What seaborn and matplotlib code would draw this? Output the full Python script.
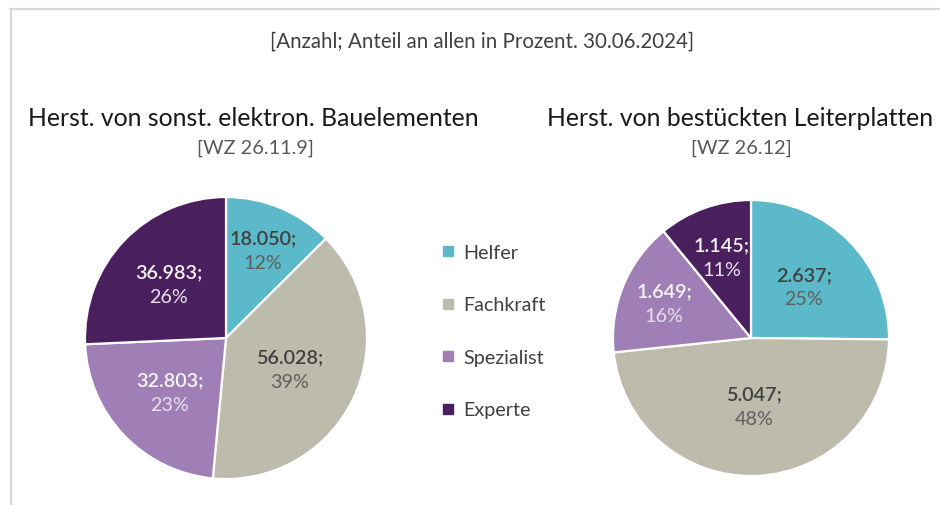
import matplotlib
matplotlib.use("Agg")
import matplotlib.pyplot as plt
import seaborn as sns
import numpy as np
from matplotlib.lines import Line2D

# ---- data ----
categories = ["Helfer", "Fachkraft", "Spezialist", "Experte"]
left_values = [18050, 56028, 32803, 36983]
left_percent = [12, 39, 23, 26]
right_values = [2637, 5047, 1649, 1145]
right_percent = [25, 48, 16, 11]
left_title = "Herst. von sonst. elektron. Bauelementen"
left_sub = "[WZ 26.11.9]"
right_title = "Herst. von bestückten Leiterplatten"
right_sub = "[WZ 26.12]"
header = "[Anzahl; Anteil an allen in Prozent. 30.06.2024]"

# ---- style ----
sns.set_theme(style="white")
plt.rcParams["font.family"] = ["Lato", "DejaVu Sans"]
colors = sns.color_palette(["#5BB9C9", "#BCBBAC", "#A07FB6", "#4A1F5E"])
dark_slice = [False, False, True, True]
left_label_r = [0.68, 0.50, 0.55, 0.56]
right_label_r = [0.54, 0.49, 0.68, 0.63]

W, H = 940, 506
fig = plt.figure(figsize=(W / 100, H / 100), dpi=100)
fig.patch.set_facecolor("white")


def fx(px):
    return px / W


def fy(py):
    return 1 - py / H


# frame lines (top and left)
fig.add_artist(Line2D([fx(10), 1], [fy(10), fy(10)], color="#D9D9D9", lw=1.6))
fig.add_artist(Line2D([fx(11), fx(11)], [0, fy(10)], color="#D9D9D9", lw=1.6))


def draw_pie(cx, cy, r, values, percents, label_r):
    ax = fig.add_axes([fx(cx - r), fy(cy + r), 2 * r / W, 2 * r / H])
    wedges, _ = ax.pie(values, colors=colors, startangle=90, counterclock=False,
                       radius=1, wedgeprops=dict(edgecolor="white", linewidth=1.6))
    ax.set_xlim(-1.0, 1.0)
    ax.set_ylim(-1.0, 1.0)
    ax.set_aspect("equal")
    ax.axis("off")
    for w in wedges:
        w.set_clip_on(False)
    for w, v, p, lr, dark in zip(wedges, values, percents, label_r, dark_slice):
        ang = np.deg2rad((w.theta1 + w.theta2) / 2)
        x, y = lr * np.cos(ang), lr * np.sin(ang)
        num = f"{v:,}".replace(",", ".") + ";"
        c1 = "#F5F5F5" if dark else "#404040"
        c2 = "#E6E0EC" if dark else "#5F5F5F"
        ax.text(x, y + 0.02, num, ha="center", va="bottom", fontsize=14.2,
                color=c1, fontweight="semibold")
        ax.text(x, y - 0.035, f"{p}%", ha="center", va="top", fontsize=14.2,
                color=c2)
    return ax


draw_pie(226, 339, 141, left_values, left_percent, left_label_r)
draw_pie(751, 339, 138, right_values, right_percent, right_label_r)

fig.text(fx(482), fy(42), header, ha="center", va="center", fontsize=14.8,
         color="#404040")
fig.text(fx(253), fy(118), left_title, ha="center", va="center", fontsize=17.8,
         color="#1A1A1A")
fig.text(fx(255), fy(148), left_sub, ha="center", va="center", fontsize=14.3,
         color="#595959")
fig.text(fx(740), fy(118), right_title, ha="center", va="center", fontsize=17.8,
         color="#1A1A1A")
fig.text(fx(741), fy(148), right_sub, ha="center", va="center", fontsize=14.3,
         color="#595959")

handles = [Line2D([], [], marker="s", linestyle="", markersize=7,
                  markerfacecolor=c, markeredgecolor=c) for c in colors]
fig.legend(handles, categories, loc="upper left",
           bbox_to_anchor=(fx(438), fy(245)), frameon=False, fontsize=14.2,
           labelcolor="#404040", labelspacing=1.8, handletextpad=0.3,
           handlelength=1.0, borderaxespad=0, borderpad=0)

fig.savefig("out.png", dpi=100, facecolor="white")
